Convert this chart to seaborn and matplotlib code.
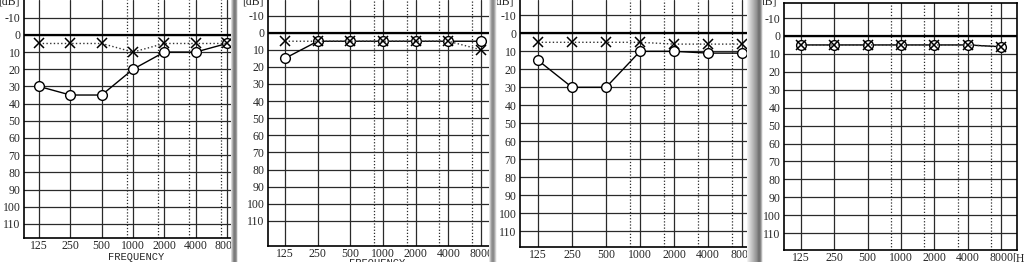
import numpy as np
import matplotlib
matplotlib.use("Agg")
import matplotlib.pyplot as plt
import seaborn as sns
from matplotlib.transforms import Bbox, TransformedBbox

# ---------------- data ----------------
freqs = [125, 250, 500, 1000, 2000, 4000, 8000]
freq_labels = ["125", "250", "500", "1000", "2000", "4000", "8000"]
db_ticks = [-10, 0, 10, 20, 30, 40, 50, 60, 70, 80, 90, 100, 110]

p1_circle = [30, 35, 35, 20, 10, 10, 5]
p1_cross = [5, 5, 5, 10, 5, 5, 5]
p2_circle = [15, 5, 5, 5, 5, 5, 5]
p2_cross = [5, 5, 5, 5, 5, 5, 10]
p3_circle = [15, 30, 30, 10, 10, 11, 11]
p3_cross = [5, 5, 5, 5, 6, 6, 6]
p4_circle = [5, 5, 5, 5, 5, 5, 6]
p4_cross = [5, 5, 5, 5, 5, 5, 6]

circles = [p1_circle, p2_circle, p3_circle, p4_circle]
crosses = [p1_cross, p2_cross, p3_cross, p4_cross]

# ---------------- style / layout ----------------
sns.set_theme(style="white")
plt.rcParams["font.family"] = ["Liberation Serif", "DejaVu Serif"]
plt.rcParams["axes.unicode_minus"] = False

W, H = 1024, 262
fig = plt.figure(figsize=(W / 100, H / 100), dpi=100)
fig.patch.set_facecolor("white")

panels = [
    dict(l=24, r=232, t=0, b=238, ol=0.48, orr=0.16, ytop=-20.3, ybot=118.2,
         top=False, right=False, clip=232, frac=0.80),
    dict(l=268, r=490, t=0, b=246, ol=0.52, orr=0.275, ytop=-19.1, ybot=124.7,
         top=False, right=True, clip=490, frac=0.72),
    dict(l=520, r=753, t=0, b=247, ol=0.53, orr=0.32, ytop=-18.5, ybot=118.7,
         top=False, right=False, clip=753, frac=0.70),
    dict(l=784, r=1017, t=3, b=250, ol=0.51, orr=0.48, ytop=-18.4, ybot=119.4,
         top=True, right=True, clip=1024, frac=0.70),
]

grid_col = "#2a2a2a"
tick_size = 8.5
axes = []
for i, p in enumerate(panels):
    ax = fig.add_axes([p["l"] / W, 1 - p["b"] / H,
                       (p["r"] - p["l"]) / W, (p["b"] - p["t"]) / H])
    ax.set_facecolor("white")
    # O (solid line) then X (dotted line)
    sns.lineplot(x=freqs, y=circles[i], ax=ax, color="black", lw=1.0,
                 marker="o", markersize=7, markerfacecolor="white",
                 markeredgecolor="black", markeredgewidth=1.0, sort=False,
                 zorder=5)
    sns.lineplot(x=freqs, y=crosses[i], ax=ax, color="#333333", lw=1.0,
                 linestyle=":", marker="x", markersize=6.5,
                 markeredgecolor="black", markeredgewidth=1.1, sort=False,
                 zorder=6)
    ax.set_xscale("log", base=2)
    ax.set_xlim(125 * 2 ** (-p["ol"]), 8000 * 2 ** (p["orr"]))
    ax.set_ylim(p["ybot"], p["ytop"])
    ax.set_xticks(freqs, labels=freq_labels)
    ax.set_xticks([f * 2 ** p["frac"] for f in (500, 1000, 2000, 4000)],
                  minor=True)
    ax.set_yticks(db_ticks, labels=[str(v) for v in db_ticks])
    ax.grid(True, which="major", color=grid_col, lw=0.9)
    ax.grid(True, which="minor", axis="x", color=grid_col, lw=0.9,
            linestyle=(0, (1, 1.5)))
    ax.axhline(0, color="black", lw=1.6, zorder=1)
    ax.tick_params(which="both", length=0)
    ax.tick_params(axis="y", pad=2.5, labelsize=tick_size)
    ax.tick_params(axis="x", pad=1.5, labelsize=tick_size)
    ax.set_xlabel("")
    ax.set_ylabel("")
    for s in ax.spines.values():
        s.set_color("black")
        s.set_linewidth(1.2)
    ax.spines["top"].set_visible(p["top"])
    ax.spines["right"].set_visible(p["right"])
    clipbox = TransformedBbox(Bbox([[0, 0], [p["clip"] / W, 1]]),
                              fig.transFigure)
    for lbl in ax.get_xticklabels():
        lbl.set_clip_box(clipbox)
        lbl.set_clip_on(True)
    axes.append(ax)

# unit labels
mono = ["Liberation Mono", "DejaVu Sans Mono"]
fig.text(136 / W, 1 - 257 / H, "FREQUENCY", ha="center", va="center",
         family=mono, size=7.5)
fig.text(377 / W, 1 - 263.5 / H, "FREQUENCY", ha="center", va="center",
         family=mono, size=7.5)
for x in (20, 264, 514, 777):
    fig.text(x / W, 1 - 1 / H, "[dB]", ha="right", va="center",
             size=tick_size)
axes[3].annotate("[Hz]", xy=(8000, 0.0), xycoords=("data", "axes fraction"),
                 xytext=(8, -1.5), textcoords="offset points",
                 ha="left", va="top", size=tick_size, annotation_clip=False)


# scan separators between panels
def band(x0, x1, vals):
    a = fig.add_axes([x0 / W, 0, (x1 - x0) / W, 1])
    a.imshow(np.array(vals, dtype=float)[None, :], cmap="gray", vmin=0,
             vmax=1, aspect="auto", interpolation="bilinear")
    a.axis("off")
    a.set_zorder(20)


band(231, 238, [0.85, 0.7, 0.55, 0.48, 0.5, 0.62, 0.9])
band(489, 497, [0.9, 0.75, 0.62, 0.55, 0.55, 0.65, 0.8, 0.95])
band(747, 763, [0.95, 0.9, 0.86, 0.82, 0.78, 0.74, 0.7, 0.66, 0.62,
                0.58, 0.52, 0.46, 0.45, 0.52, 0.7, 0.92])

fig.savefig("out.png", dpi=100, facecolor="white")
